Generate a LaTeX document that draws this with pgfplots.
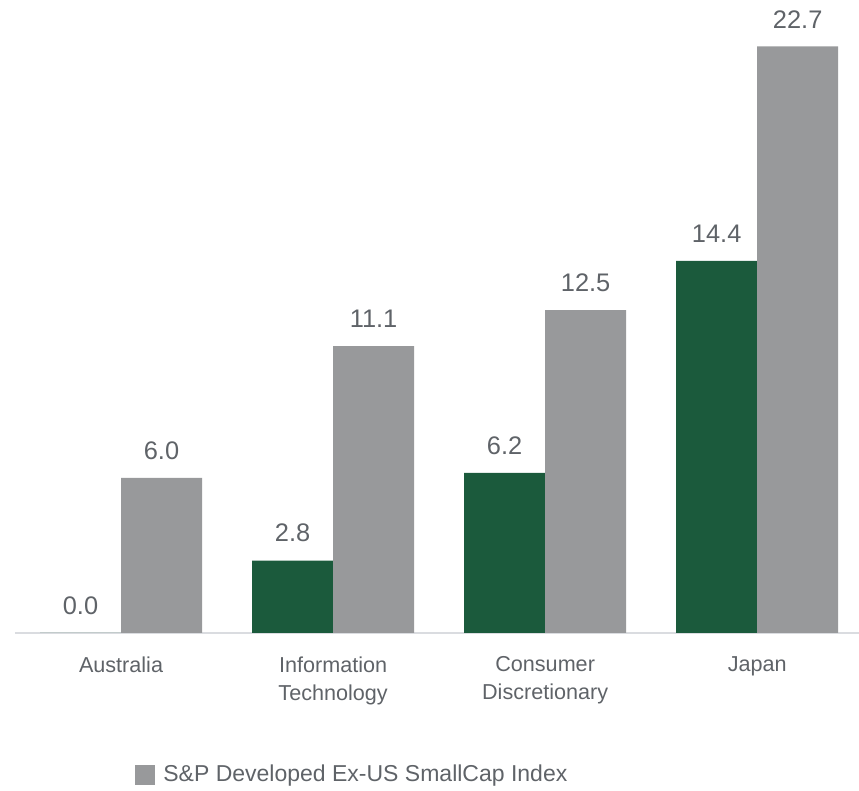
\documentclass[border=0pt]{standalone}
\usepackage{pgfplots}
\pgfplotsset{compat=1.18}
\usepackage{fontspec}
\setmainfont{Liberation Sans}
\definecolor{grn}{HTML}{1B5A3C}
\definecolor{gry}{HTML}{98999B}
\definecolor{txt}{HTML}{5F6368}
\definecolor{axl}{HTML}{DADCE0}
\begin{document}
\begin{tikzpicture}
\begin{axis}[
  at={(0,0)}, anchor=south west,
  scale only axis,
  width=422pt, height=316.5pt,
  xmin=-0.5, xmax=3.48,
  ymin=0, ymax=24.5,
  clip=false,
  ybar, bar width=40.5pt,
  axis x line=bottom, axis y line=none,
  x axis line style={-, draw=axl, line width=0.8pt},
  xtick={0,1,2,3},
  xticklabels={Australia,{Information\\Technology},{Consumer\\Discretionary},Japan},
  major tick length=0pt,
  xticklabel style={align=center, font=\fontsize{10.8}{14}\selectfont, text=txt, inner sep=0pt, yshift=-11.5pt},
  nodes near coords,
  nodes near coords style={font=\fontsize{12.7}{14}\selectfont, text=txt, inner sep=0pt, yshift=9pt, /pgf/number format/.cd, fixed, fixed zerofill, precision=1},
  legend style={at={(60pt,-71pt)}, anchor=west, draw=none, fill=none, font=\fontsize{11.5}{14}\selectfont, text=txt, inner sep=0pt},
  legend image code/.code={\fill[#1] (0pt,-5pt) rectangle (10pt,5pt);},
  legend cell align=left,
  /pgf/number format/assume math mode=true,
]
\addplot[fill=grn, draw=none, bar shift=-20.25pt, forget plot] coordinates {(0,0) (1,2.8) (2,6.2) (3,14.4)};
\addplot[fill=gry, draw=none, bar shift=20.25pt] coordinates {(0,6.0) (1,11.1) (2,12.5) (3,22.7)};
\addlegendentry{\hspace{2pt}S\&P Developed Ex-US SmallCap Index}
\end{axis}
\pgfresetboundingbox
\useasboundingbox (-7.5pt,-79pt) rectangle (422pt,316.5pt);
\end{tikzpicture}
\end{document}
